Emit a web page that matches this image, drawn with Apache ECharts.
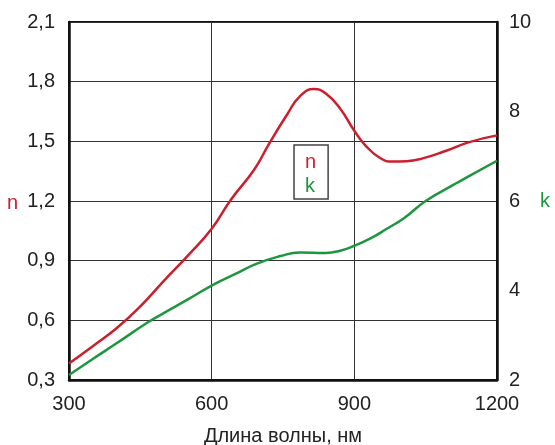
<!DOCTYPE html>
<html>
<head>
<meta charset="utf-8">
<script src="https://cdn.jsdelivr.net/npm/echarts@6/dist/echarts.min.js"></script>
<style>
html,body{margin:0;padding:0;background:#fff;}
#c{width:555px;height:445px;}
</style>
</head>
<body>
<div id="c"></div>
<script>
// Data
const nWavelengths = [300, 350, 400, 450, 500, 550, 600, 640, 690, 720, 760, 785, 815, 840, 870, 900, 925, 955, 980, 1010, 1040, 1090, 1140, 1200];
const nValues      = [0.383, 0.47, 0.56, 0.67, 0.80, 0.925, 1.06, 1.205, 1.36, 1.485, 1.64, 1.725, 1.763, 1.74, 1.665, 1.553, 1.475, 1.415, 1.398, 1.40, 1.412, 1.45, 1.495, 1.53];
const kWavelengths = [300, 350, 400, 466, 500, 550, 600, 650, 695, 745, 785, 840, 870, 900, 935, 970, 1005, 1050, 1110, 1145, 1200];
const kValues      = [2.11, 2.47, 2.82, 3.29, 3.5, 3.80, 4.11, 4.37, 4.6, 4.77, 4.85, 4.84, 4.89, 5.0, 5.17, 5.39, 5.62, 6.0, 6.37, 6.58, 6.9];
const xTicks = [300, 600, 900, 1200];
const seriesNames = ['n', 'k'];
const xTitle = 'Длина волны, нм';

const RED = '#cc1f2d';
const GREEN = '#1e9640';
const TXT = '#222';
const FONT = 'Liberation Sans, Arial, sans-serif';

const chart = echarts.init(document.getElementById('c'), null, {renderer: 'canvas'});
const zip = (a, b) => a.map((v, i) => [v, b[i]]);

chart.setOption({
  animation: false,
  backgroundColor: '#fff',
  textStyle: {fontFamily: FONT},
  grid: {left: 69, right: 58, top: 22, bottom: 65, containLabel: false, outerBoundsMode: 'none',
         show: true, borderColor: '#111', borderWidth: 2, backgroundColor: 'transparent'},
  legend: {
    left: 294, top: 145, orient: 'vertical',
    icon: 'none', itemWidth: 0, itemHeight: 10, itemGap: 4,
    padding: [7, 12, 3, 6],
    borderColor: '#444', borderWidth: 1.5,
    selectedMode: false,
    textStyle: {fontSize: 20, fontFamily: FONT},
    data: [
      {name: seriesNames[0], textStyle: {color: RED}},
      {name: seriesNames[1], textStyle: {color: GREEN}}
    ]
  },
  xAxis: {
    type: 'value', min: xTicks[0], max: xTicks[xTicks.length - 1], interval: xTicks[1] - xTicks[0],
    name: xTitle, nameLocation: 'middle', nameGap: 46,
    nameTextStyle: {fontSize: 20, color: TXT, fontFamily: FONT},
    axisLine: {show: true, lineStyle: {color: '#111', width: 2.5}},
    axisTick: {show: false},
    axisLabel: {fontSize: 20, color: TXT, margin: 14, fontFamily: FONT, formatter: v => String(v)},
    splitLine: {show: true, lineStyle: {color: '#333', width: 1}}
  },
  yAxis: [
    {
      type: 'value', min: 0.3, max: 2.1, interval: 0.3, position: 'left',
      axisLine: {show: true, lineStyle: {color: '#111', width: 2.5}},
      axisTick: {show: false},
      axisLabel: {fontSize: 20, color: TXT, margin: 14, fontFamily: FONT,
        formatter: v => v.toFixed(1).replace('.', ',')},
      splitLine: {show: true, lineStyle: {color: '#333', width: 1}}
    },
    {
      type: 'value', min: 2, max: 10, interval: 2, position: 'right',
      axisLine: {show: true, lineStyle: {color: '#111', width: 2.5}},
      axisTick: {show: false},
      axisLabel: {fontSize: 20, color: TXT, margin: 12, fontFamily: FONT, formatter: v => String(v)},
      splitLine: {show: false}
    }
  ],
  graphic: [
    {type: 'text', left: 7, top: 193, style: {text: 'n', fill: RED, font: '20px ' + FONT}},
    {type: 'text', left: 540, top: 191, style: {text: 'k', fill: GREEN, font: '20px ' + FONT}}
  ],
  series: [
    {name: seriesNames[0], type: 'line', yAxisIndex: 0, data: zip(nWavelengths, nValues),
     smooth: 0.5, showSymbol: false, lineStyle: {color: RED, width: 2.5}, itemStyle: {color: RED}},
    {name: seriesNames[1], type: 'line', yAxisIndex: 1, data: zip(kWavelengths, kValues),
     smooth: 0.5, showSymbol: false, lineStyle: {color: GREEN, width: 2.5}, itemStyle: {color: GREEN}}
  ]
});
</script>
</body>
</html>
